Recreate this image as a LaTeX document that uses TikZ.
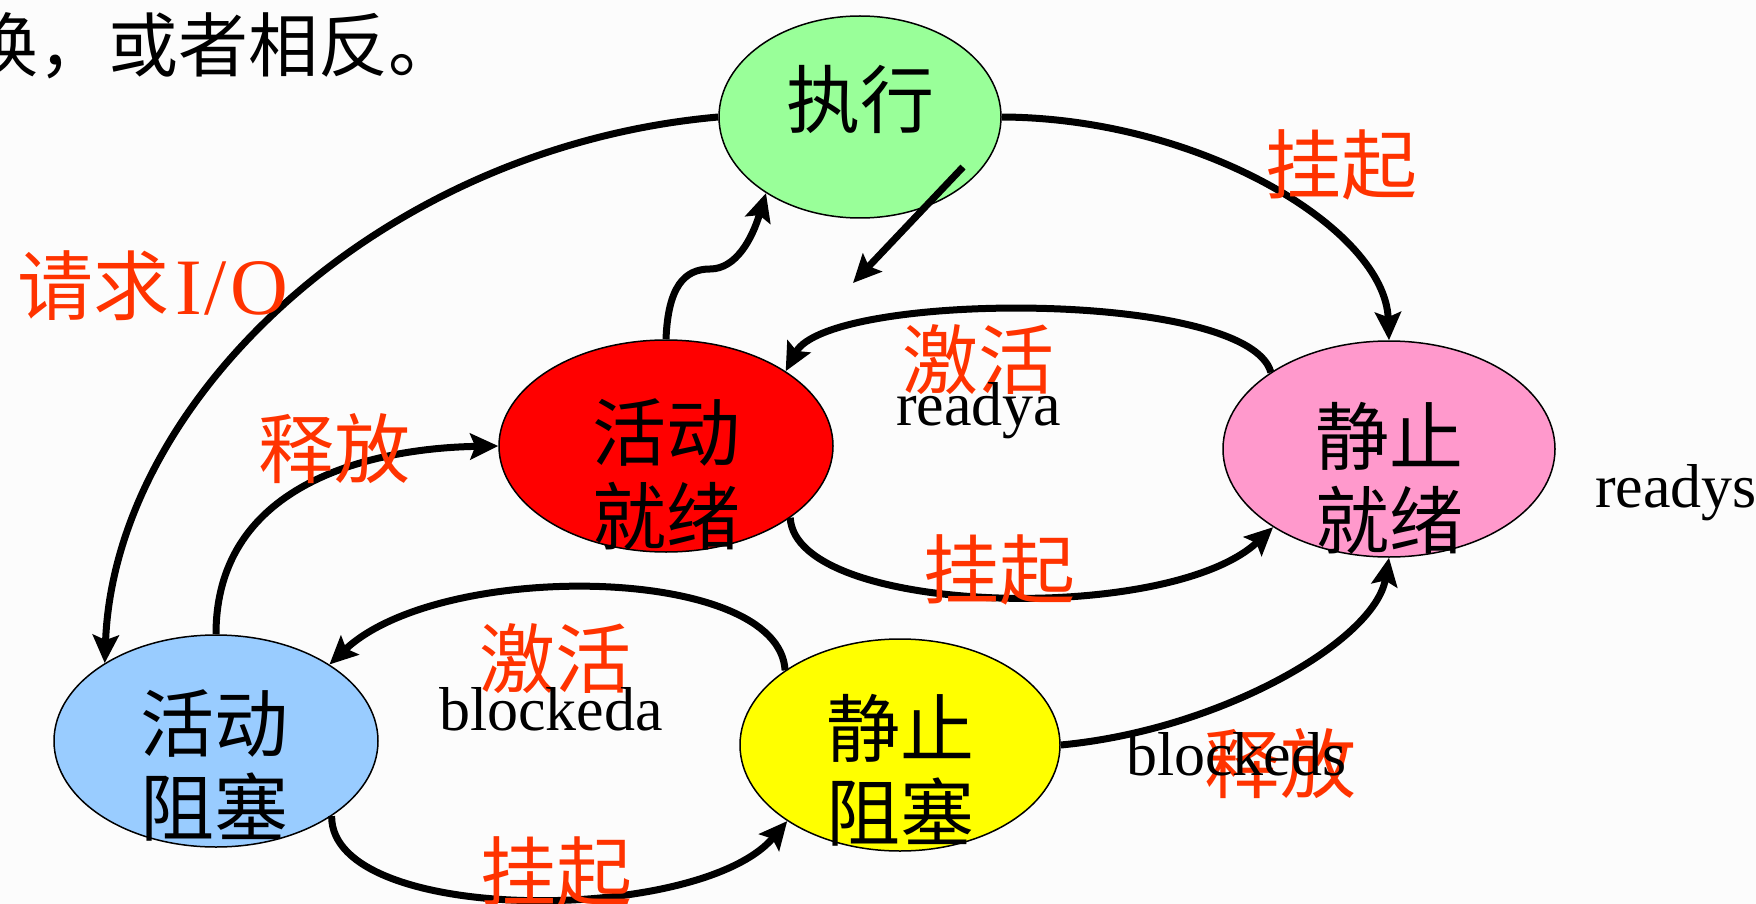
\documentclass[tikz,border=0pt]{standalone}
\usepackage{fontspec}
\setmainfont{Liberation Serif}
\newfontfamily\cjk{Noto Sans CJK SC}
\usetikzlibrary{arrows.meta,shapes.geometric}
\definecolor{bgc}{RGB}{252,252,252}
\definecolor{lblred}{RGB}{255,51,0}
\definecolor{cgreen}{RGB}{153,255,153}
\definecolor{cred}{RGB}{255,0,0}
\definecolor{cpink}{RGB}{255,153,204}
\definecolor{cblue}{RGB}{153,204,255}
\definecolor{cyel}{RGB}{255,255,0}
\tikzset{
 state/.style={ellipse, draw=black, line width=1.5pt, inner sep=0pt},
 stext/.style={font=\cjk\fontsize{74}{84}\selectfont, align=center, inner sep=0pt},
 rlbl/.style={font=\cjk\fontsize{76}{80}\selectfont, text=lblred, inner sep=0pt},
 elbl/.style={font=\fontsize{62}{66}\selectfont, inner sep=0pt, anchor=base west},
 conn/.style={line width=7pt, -{Stealth[length=28pt,width=26pt,inset=5pt]}},
}
\begin{document}
\begin{tikzpicture}[x=1pt,y=-1pt]
\fill[bgc] (0,0) rectangle (1756,904);
\useasboundingbox (0,0) rectangle (1756,904);

% top text (partially cut)
\node[font=\cjk\fontsize{70}{74}\selectfont, anchor=east, inner sep=0pt] (top) at (459,46) {换，或者相反。};

% states
\node[state, fill=cgreen, minimum width=282pt, minimum height=202pt] (zx) at (860,117) {};
\node[state, fill=cred,   minimum width=334pt, minimum height=212pt] (hj) at (666,446) {};
\node[state, fill=cpink,  minimum width=332pt, minimum height=216pt] (jj) at (1389,449) {};
\node[state, fill=cblue,  minimum width=324pt, minimum height=212pt] (hz) at (216,741) {};
\node[state, fill=cyel,   minimum width=320pt, minimum height=212pt] (jz) at (900,745) {};

% connectors
\draw[conn] (zx.180) .. controls +(-339,30) and +(10,-262) .. (hz.145);
\draw[conn] (zx.0) .. controls +(199,1) and +(-4,-111) .. (jj.90);
\coordinate (s1) at (710,269);
\draw[conn] (hj.90) .. controls +(2,-52) and +(-26,0) .. (s1)
                    .. controls +(26,0) and +(-14,46) .. (zx.219);
\coordinate (a1) at (963,167);
\coordinate (a2) at (853,283);
\draw[conn] (a1) -- (a2);
\draw[conn] (jj.147) .. controls +(-23,-83) and +(43,-80) .. (hj.32);
\draw[conn] (hj.330) .. controls +(5,98) and +(-104,98) .. (jj.214);
\draw[conn] (hz.90) .. controls +(0,-155) and +(-119,2) .. (hj.180);
\draw[conn] (jz.147) .. controls +(-6,-106) and +(111,-105) .. (hz.34);
\draw[conn] (hz.327) .. controls +(-1,109) and +(-88,104) .. (jz.214);
\draw[conn] (jz.0) .. controls +(160,-15) and +(-14,83) .. (jj.270);

% state texts
\node[stext] (tzx) at (860,99) {执行};
\node[stext] (thj) at (666,475) {活动\\就绪};
\node[stext] (tjj) at (1389,478) {静止\\就绪};
\node[stext] (thz) at (214,765) {活动\\阻塞};
\node[stext] (tjz) at (900,770) {静止\\阻塞};

% red transition labels
\node[rlbl] (l1) at (1341,165) {挂起};
\node[rlbl, anchor=west] (l2) at (17,286) {请求\kern6pt{\fontspec{Liberation Serif}\fontsize{80}{84}\selectfont I\kern3pt/\kern3pt O}};
\node[rlbl] (l3) at (978,360) {激活};
\node[rlbl] (l4) at (334,449) {释放};
\node[rlbl] (l5) at (999,570) {挂起};
\node[rlbl] (l6) at (555,659) {激活};
\node[rlbl] (l7) at (556,872) {挂起};
\node[rlbl] (l8) at (1280,764) {释放};

% black state names
\node[elbl] (ra) at (896,425) {readya};
\node[elbl] (rs) at (1595,507) {readys};
\node[elbl] (ba) at (439,730) {blockeda};
\node[elbl] (bs) at (1126,775) {blockeds};
\end{tikzpicture}
\end{document}
